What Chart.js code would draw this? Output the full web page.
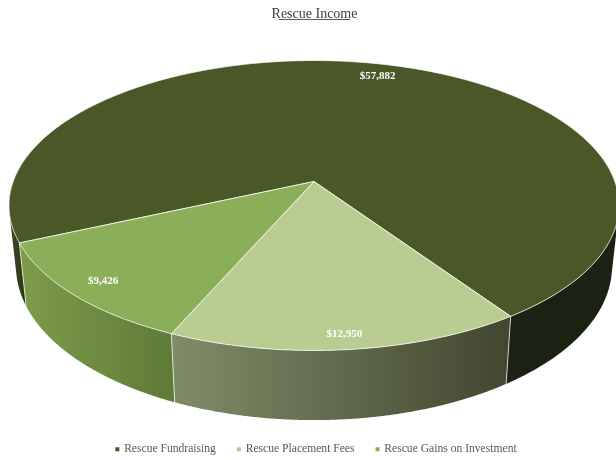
<!DOCTYPE html>
<html>
<head>
<meta charset="utf-8">
<title>Rescue Income</title>
<script src="https://cdn.jsdelivr.net/npm/chart.js@4/dist/chart.umd.js"></script>
<style>
  html, body { margin: 0; padding: 0; background: #fff; }
  canvas { display: block; }
</style>
</head>
<body>
<canvas id="chart" width="616" height="460"></canvas>
<script>
const categories = ['Rescue Fundraising', 'Rescue Placement Fees', 'Rescue Gains on Investment'];
const income = [57882, 12950, 9426];
const topColors = ['#4a5726', '#b9cd93', '#8bae58'];

// side wall shading, left to right: [stop, colour]
const wallShades = [
  [[0, '#465222'], [0.04, '#2e3818'], [0.8, '#1c2213'], [1, '#1c2213']],
  [[0.28, '#808c68'], [0.83, '#41462f']],
  [[0.03, '#7d9c4b'], [0.28, '#5f7b38']]
];
const labelRadius = [0.885, 0.92, 0.89];

const FONT = '"Liberation Serif", serif';
const START_ANGLE = 246;

// perspective view of the flat pie, the library only gives us the angles
const view = { cx: 314, cy: 181.5, a: 300.8, b: 141, k: 0.1655 };
const floor = { sx: 0.977, sy: 1.06, dy: 59.5 };

function topPoint(angle, r) {
  const u = Math.cos(angle) * r;
  const v = -Math.sin(angle) * r;
  const d = 1 + view.k * v;
  return [view.cx + view.a * u / d, view.cy - view.b * v / d];
}

function floorPoint(angle) {
  const p = topPoint(angle, 1);
  return [view.cx + (p[0] - view.cx) * floor.sx, view.cy + floor.dy + (p[1] - view.cy) * floor.sy];
}

function tracePoints(ctx, pts) {
  pts.forEach((p, i) => (i ? ctx.lineTo(p[0], p[1]) : ctx.moveTo(p[0], p[1])));
  ctx.closePath();
}

function signedArea(pts) {
  let sum = 0;
  pts.forEach((p, i) => {
    const q = pts[(i + 1) % pts.length];
    sum += p[0] * q[1] - q[0] * p[1];
  });
  return sum;
}

function drawWall(ctx, arc, shades, width) {
  const grad = ctx.createLinearGradient(0, 0, width, 0);
  shades.forEach(s => grad.addColorStop(s[0], s[1]));
  ctx.fillStyle = grad;
  const steps = 240;
  // quads wound the same way in one path, so the silhouette wedge is kept and there are no seams
  ctx.beginPath();
  for (let i = 0; i < steps; i++) {
    const a0 = arc.startAngle + (arc.endAngle - arc.startAngle) * i / steps;
    const a1 = arc.startAngle + (arc.endAngle - arc.startAngle) * (i + 1) / steps;
    // the back of the rim is hidden by the top anyway
    if (Math.sin(a0) < -0.2 || Math.sin(a1) < -0.2) continue;
    const quad = [topPoint(a0, 1), topPoint(a1, 1), floorPoint(a1), floorPoint(a0)];
    if (signedArea(quad) < 0) quad.reverse();
    tracePoints(ctx, quad);
  }
  ctx.fill();
}

function drawTop(ctx, arc, color) {
  const pts = [[view.cx, view.cy]];
  const steps = 240;
  for (let i = 0; i <= steps; i++) {
    pts.push(topPoint(arc.startAngle + (arc.endAngle - arc.startAngle) * i / steps, 1));
  }
  ctx.beginPath();
  tracePoints(ctx, pts);
  ctx.fillStyle = color;
  ctx.fill();
  ctx.strokeStyle = 'rgba(255,255,255,0.75)';
  ctx.lineWidth = 1;
  ctx.stroke();
}

const pie3d = {
  id: 'pie3d',
  afterLayout(chart) {
    // legend sits a little right of the title and lower in the reference
    chart.legend.left += 2;
    chart.legend.right += 2;
    chart.legend.top += 5;
    chart.legend.bottom += 5;
  },
  beforeDatasetDraw(chart, args) {
    const ctx = chart.ctx;
    const arcs = args.meta.data;
    ctx.save();
    arcs.forEach((arc, i) => drawWall(ctx, arc, wallShades[i], chart.width));
    // dividers between the walls
    ctx.strokeStyle = 'rgba(255,255,255,0.7)';
    ctx.lineWidth = 1;
    arcs.forEach(arc => {
      if (Math.sin(arc.startAngle) > -0.2) {
        const p = topPoint(arc.startAngle, 1);
        const q = floorPoint(arc.startAngle);
        ctx.beginPath();
        ctx.moveTo(p[0], p[1]);
        ctx.lineTo(q[0], q[1]);
        ctx.stroke();
      }
    });
    arcs.forEach((arc, i) => drawTop(ctx, arc, topColors[i]));
    // value labels
    ctx.font = 'bold 11px ' + FONT;
    ctx.fillStyle = '#ffffff';
    ctx.textAlign = 'center';
    ctx.textBaseline = 'middle';
    arcs.forEach((arc, i) => {
      const p = topPoint((arc.startAngle + arc.endAngle) / 2, labelRadius[i]);
      ctx.fillText('$' + income[i].toLocaleString('en-US'), p[0], p[1]);
    });
    ctx.restore();
    return false;
  },
  afterDraw(chart) {
    // Chart.js titles have no underline
    const ctx = chart.ctx;
    const t = chart.titleBlock;
    ctx.save();
    ctx.font = t.options.font.string;
    const w = ctx.measureText(t.options.text).width;
    const mid = t.left + t.width / 2;
    ctx.strokeStyle = '#595959';
    ctx.lineWidth = 1;
    ctx.beginPath();
    ctx.moveTo(mid - w / 2, 19.5);
    ctx.lineTo(mid + w / 2, 19.5);
    ctx.stroke();
    ctx.restore();
  }
};

new Chart(document.getElementById('chart'), {
  type: 'pie',
  data: {
    labels: categories,
    datasets: [{ data: income, backgroundColor: topColors, borderWidth: 0 }]
  },
  options: {
    responsive: false,
    animation: false,
    rotation: START_ANGLE,
    layout: { padding: { left: 13, top: 2, bottom: 0 } },
    plugins: {
      title: {
        display: true,
        text: 'Rescue Income',
        color: '#404040',
        font: { family: FONT, size: 14, weight: 'normal' },
        padding: { top: 4, bottom: 8 }
      },
      legend: {
        position: 'bottom',
        labels: {
          color: '#595959',
          font: { family: FONT, size: 11.6 },
          usePointStyle: true,
          pointStyle: 'rect',
          boxHeight: 4,
          boxWidth: 2,
          padding: 22
        }
      },
      tooltip: { enabled: false }
    }
  },
  plugins: [pie3d]
});
</script>
</body>
</html>
